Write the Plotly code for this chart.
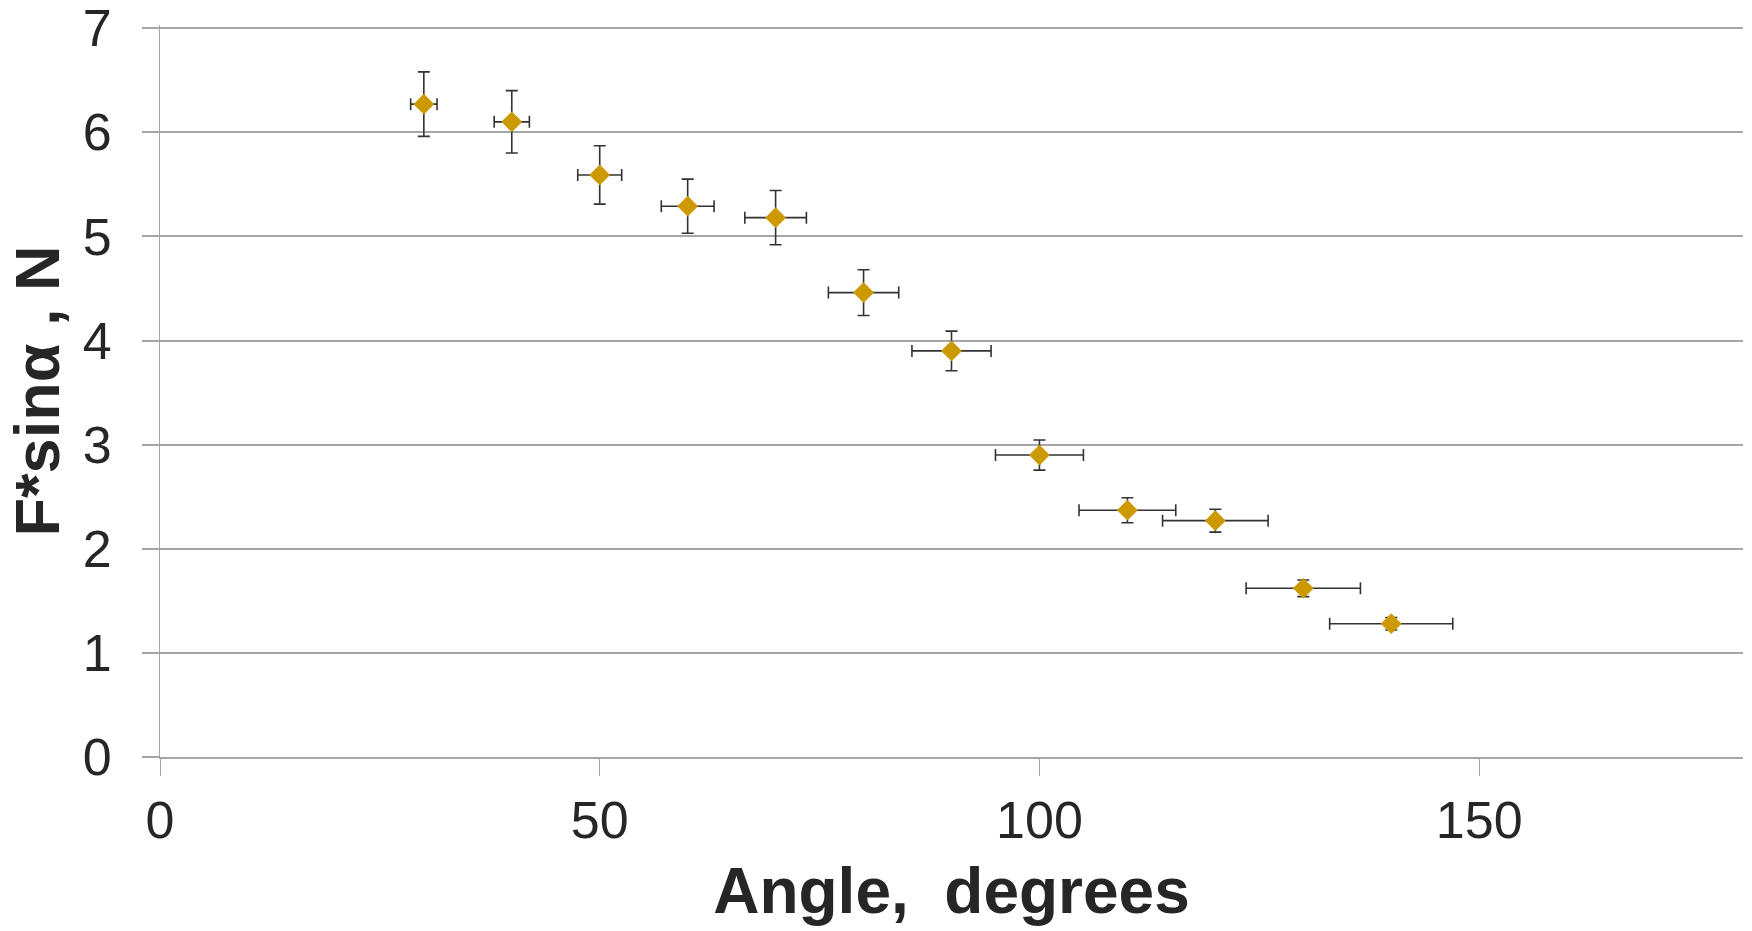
import plotly.graph_objects as go

angle = [30, 40, 50, 60, 70, 80, 90, 100, 110, 120, 130, 140]
fsin = [6.27, 6.10, 5.59, 5.29, 5.18, 4.46, 3.90, 2.90, 2.37, 2.27, 1.62, 1.28]
y_err = [0.31, 0.30, 0.28, 0.26, 0.26, 0.22, 0.19, 0.145, 0.12, 0.11, 0.08, 0.06]
x_err = [1.5, 2.0, 2.5, 3.0, 3.5, 4.0, 4.5, 5.0, 5.5, 6.0, 6.5, 7.0]

x_ticks = [0, 50, 100, 150]
y_ticks = [0, 1, 2, 3, 4, 5, 6, 7]

FONT = "Liberation Sans, Arial, sans-serif"
TXT = "#262626"
GRID = "#a6a6a6"

fig = go.Figure()
fig.add_trace(go.Scatter(
    x=angle, y=fsin, mode="markers",
    marker=dict(symbol="diamond", size=16, color="#CC9900", line=dict(width=0)),
    error_y=dict(type="data", array=y_err, visible=True, color="#333333", thickness=1.6, width=6),
    error_x=dict(type="data", array=x_err, visible=True, color="#333333", thickness=1.6, width=6),
    showlegend=False,
    cliponaxis=False,
))

fig.update_layout(
    width=1752, height=931,
    margin=dict(l=160, r=9, t=25, b=174, autoexpand=False),
    paper_bgcolor="white", plot_bgcolor="white",
    font=dict(family=FONT, color=TXT),
)
fig.update_xaxes(
    range=[0, 180], tickvals=x_ticks, ticktext=[str(v) for v in x_ticks],
    showgrid=False, zeroline=False,
    showline=True, linecolor=GRID, linewidth=1.5,
    ticks="outside", ticklen=17, tickcolor=GRID, tickwidth=1,
    tickfont=dict(size=52, color=TXT), ticklabelstandoff=0,
    title=dict(text="<b>Angle,  degrees</b>", font=dict(size=64, color=TXT), standoff=20),
    automargin=False,
)
fig.update_yaxes(
    range=[0, 7.03], tickvals=y_ticks, ticktext=[str(v) for v in y_ticks],
    showgrid=True, gridcolor=GRID, gridwidth=1.5, zeroline=False,
    showline=True, linecolor=GRID, linewidth=1,
    ticks="outside", ticklen=17, tickcolor=GRID, tickwidth=1.5,
    tickfont=dict(size=52, color=TXT), ticklabelstandoff=20,
    ticklabeloverflow="allow",
    title=dict(text="<b>F*sinα , N</b>", font=dict(size=63, color=TXT), standoff=2),
    automargin=False,
)

fig.write_html("out.html")
